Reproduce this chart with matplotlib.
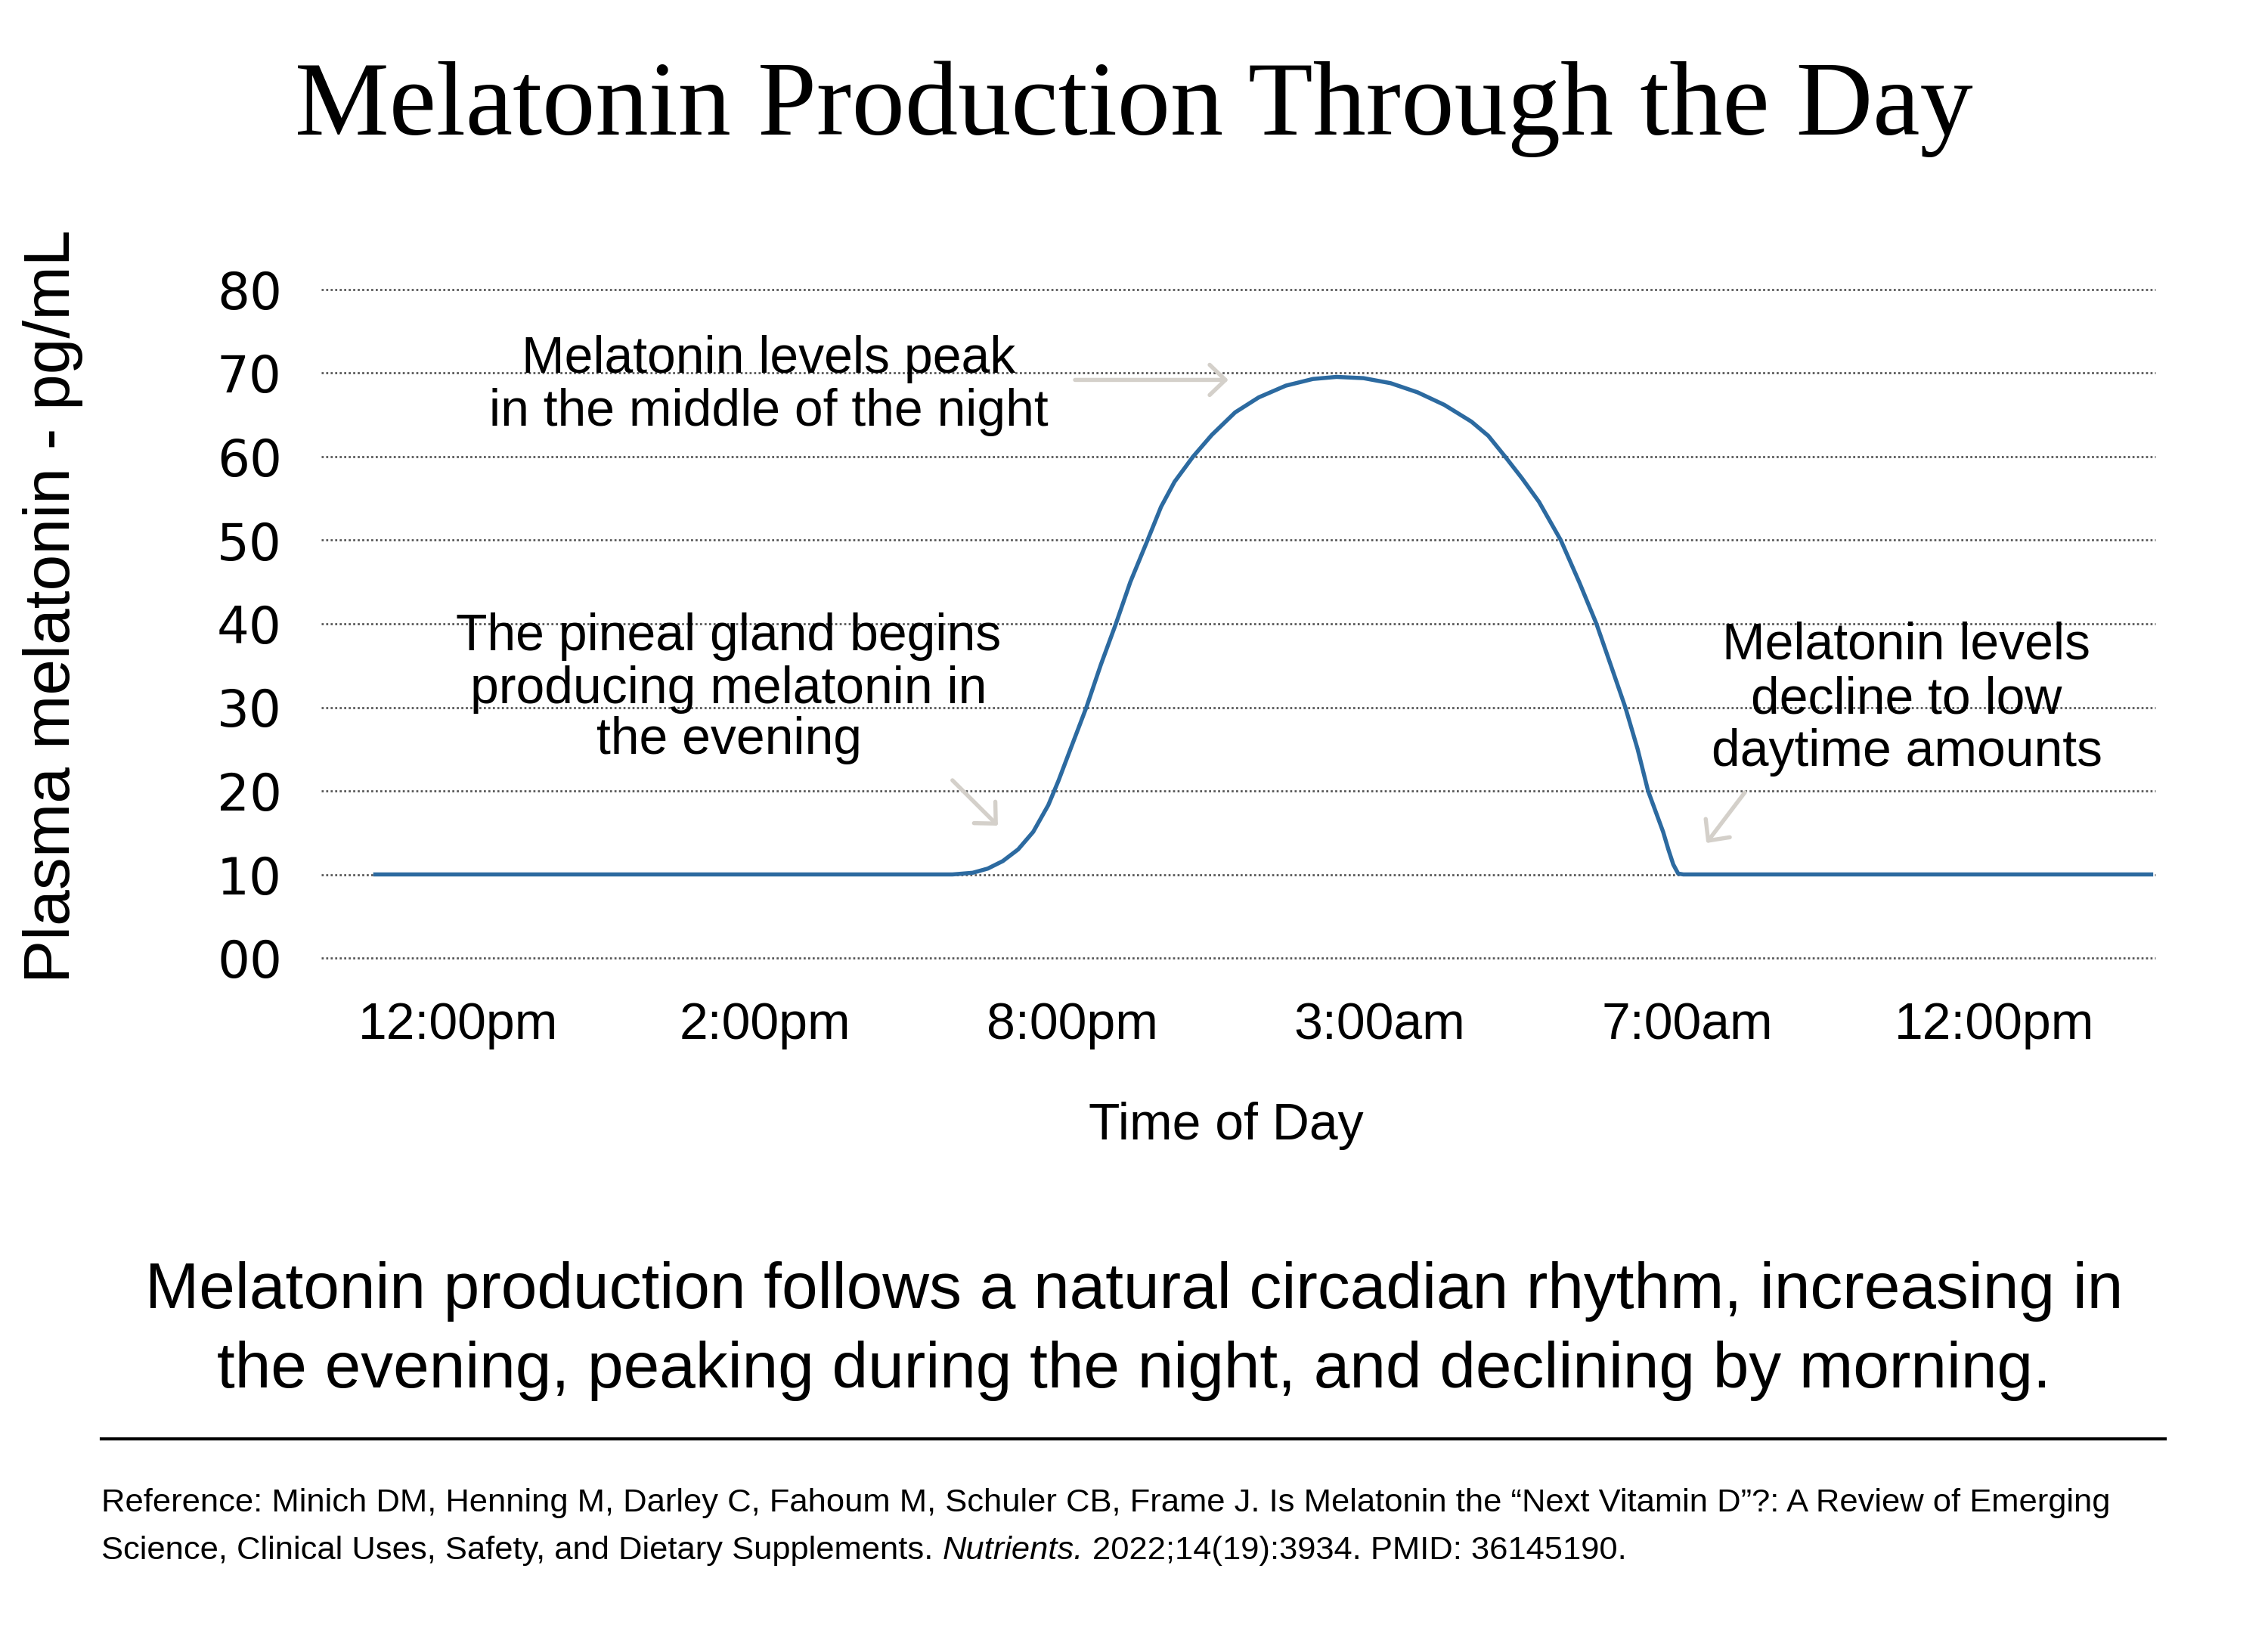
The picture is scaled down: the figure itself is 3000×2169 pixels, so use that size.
import matplotlib
matplotlib.use("Agg")
import matplotlib.pyplot as plt
from matplotlib.lines import Line2D

W, H, DPI = 3000, 2169, 300

# ---------------- data ----------------
time_labels = ["12:00pm", "2:00pm", "8:00pm", "3:00am", "7:00am", "12:00pm"]
y_ticks = [0, 10, 20, 30, 40, 50, 60, 70, 80]
y_tick_labels = ["00", "10", "20", "30", "40", "50", "60", "70", "80"]

# position along the category axis (0 = first tick label) and plasma melatonin (pg/mL)
time_pos = [-0.276, 1.609, 1.675, 1.724, 1.773, 1.823, 1.872, 1.921, 1.954, 1.988,
            2.045, 2.092, 2.141, 2.188, 2.244, 2.288, 2.332, 2.392, 2.453, 2.529,
            2.606, 2.694, 2.782, 2.859, 2.947, 3.035, 3.123, 3.210, 3.298, 3.353,
            3.408, 3.463, 3.518, 3.589, 3.650, 3.705, 3.755, 3.799, 3.839, 3.873,
            3.922, 3.939, 3.955, 3.971, 3.988, 5.517]
melatonin = [10, 10, 10.2, 10.7, 11.6, 13.0, 15.1, 18.3, 21.2, 24.5,
             30, 35.1, 40, 45, 50, 54.0, 57.0, 60, 62.6, 65.3,
             67.1, 68.5, 69.3, 69.55, 69.4, 68.8, 67.7, 66.2, 64.2, 62.5,
             60, 57.4, 54.6, 50, 44.9, 40, 34.7, 30, 25, 20,
             15.1, 13.0, 11.2, 10.1, 10, 10]

title = "Melatonin Production Through the Day"
y_label = "Plasma melatonin - pg/mL"
x_label = "Time of Day"
note_peak = ["Melatonin levels peak", "in the middle of the night"]
note_start = ["The pineal gland begins", "producing melatonin in", "the evening"]
note_end = ["Melatonin levels", "decline to low", "daytime amounts"]
subtitle = ["Melatonin production follows a natural circadian rhythm, increasing in",
            "the evening, peaking during the night, and declining by morning."]
ref_line1 = ("Reference: Minich DM, Henning M, Darley C, Fahoum M, Schuler CB, Frame J. "
             "Is Melatonin the \u201cNext Vitamin D\u201d?: A Review of Emerging")
ref_line2 = [("Science, Clinical Uses, Safety, and Dietary Supplements.", "normal"),
             ("Nutrients.", "italic"),
             ("2022;14(19):3934. PMID: 36145190.", "normal")]

# arrows (tail -> tip) in data coordinates
arrows = [((2.008, 69.19), (2.507, 69.19)),
          ((1.609, 21.27), (1.757, 15.84)),
          ((4.188, 19.82), (4.063, 13.76))]

SANS = "Liberation Sans"
LINE_COLOR = "#2c6aa0"
ARROW_COLOR = "#d4d0ca"


def fx(px):
    return px / W


def fy(py):
    return 1 - py / H


fig = plt.figure(figsize=(W / DPI, H / DPI), dpi=DPI)
fig.patch.set_facecolor("white")

ax = fig.add_axes([fx(425), fy(1267), fx(2851) - fx(425), fy(383) - fy(1267)])
ax.set_xlim(-0.445, 5.524)
ax.set_ylim(0, 80)
for s in ax.spines.values():
    s.set_visible(False)

for v in y_ticks:
    ax.axhline(v, color="#555555", lw=0.65, ls=(0, (1, 1.2)), clip_on=False, zorder=1)

ax.plot(time_pos, melatonin, color=LINE_COLOR, lw=1.3,
        solid_joinstyle="round", solid_capstyle="butt", zorder=3)

ax.set_xticks(range(len(time_labels)))
ax.set_xticklabels(time_labels, fontfamily=SANS, fontsize=16.3, color="black")
ax.tick_params(axis="x", length=0, pad=13.7)
ax.set_yticks(y_ticks)
ax.set_yticklabels(y_tick_labels, fontfamily="DejaVu Sans", fontsize=16.2, color="black", ha="left")
ax.tick_params(axis="y", length=0, pad=138 * 72 / DPI)

for tail, tip in arrows:
    ax.annotate("", xy=tip, xytext=tail, xycoords="data", textcoords="data",
                arrowprops=dict(arrowstyle="->,head_length=0.5,head_width=0.48",
                                color=ARROW_COLOR, lw=1.3, shrinkA=0, shrinkB=0,
                                mutation_scale=10, capstyle="round", joinstyle="round"),
                zorder=2)

# title
fig.text(0.5, fy(178), title, ha="center", va="baseline",
         fontfamily="Liberation Serif", fontsize=33.7, color="black")

# axis labels
fig.text(fx(92), fy(802), y_label, rotation=90, ha="center", va="baseline",
         fontfamily=SANS, fontsize=20.6, color="black", rotation_mode="anchor")
fig.text(fx(1622), fy(1507), x_label, ha="center", va="baseline",
         fontfamily=SANS, fontsize=16.3, color="black")

# annotations
def block(lines, cx, baselines, size):
    for ln, b in zip(lines, baselines):
        fig.text(fx(cx), fy(b), ln, ha="center", va="baseline",
                 fontfamily=SANS, fontsize=size, color="black")

block(note_peak, 1017, [493, 563], 16.3)
block(note_start, 964, [860, 930, 997], 16.3)
block(note_end, 2522, [872, 943, 1013], 16.3)

# subtitle
for ln, b in zip(subtitle, [1730, 1835]):
    fig.text(0.5, fy(b), ln, ha="center", va="baseline",
             fontfamily=SANS, fontsize=20.55, color="black")

# rule
fig.add_artist(Line2D([fx(134), fx(2864)], [fy(1903), fy(1903)],
                      color="black", lw=1.0, transform=fig.transFigure))

# reference
REF_SIZE = 10.45
fig.text(fx(134), fy(1999), ref_line1, ha="left", va="baseline",
         fontfamily=SANS, fontsize=REF_SIZE, color="black")
renderer = fig.canvas.get_renderer()
space_px = 0.278 * REF_SIZE * DPI / 72
xpix = 134
for seg, style in ref_line2:
    t = fig.text(fx(xpix), fy(2062), seg, ha="left", va="baseline",
                 fontfamily=SANS, fontsize=REF_SIZE, style=style, color="black")
    bb = t.get_window_extent(renderer=renderer)
    xpix = bb.x1 + space_px

fig.savefig("out.png", dpi=DPI, facecolor="white")
